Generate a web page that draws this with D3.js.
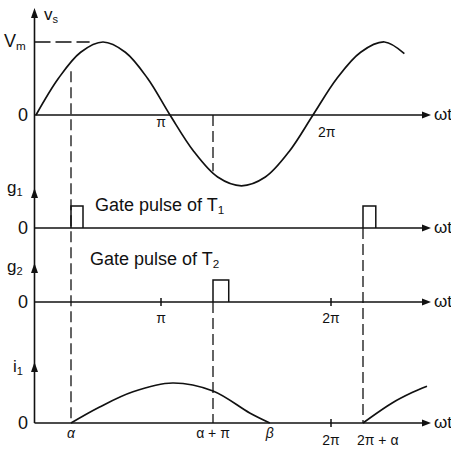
<!DOCTYPE html>
<html>
<head>
<meta charset="utf-8">
<script src="https://cdn.jsdelivr.net/npm/d3@7"></script>
<style>
  body { margin: 0; background: #fff; }
  svg text { font-family: "Liberation Sans", Arial, sans-serif; fill: #111; }
</style>
</head>
<body>
<div id="chart"></div>
<script>
var width = 451;
var height = 451;

// supply voltage v_s, angle in degrees, value in units of Vm
var vsAngle = [0, 30, 60, 90, 120, 150, 180, 210, 240, 270, 300, 330, 360, 390, 420, 450, 475];
var vsValue = [0, 0.5, 0.86, 1, 0.86, 0.5, 0, -0.5, -0.85, -0.97, -0.85, -0.5, 0, 0.5, 0.86, 1, 0.84];

// gate pulses (start angle, degrees)
var g1Pulses = [45, 405];
var g2Pulses = [225];
var pulseWidth = 18;

// load current i1, two conduction intervals
var i1Angle1 = [45, 88, 138, 190, 225, 267, 290];
var i1Value1 = [0, 0.40, 0.78, 1, 0.80, 0.25, 0];
var i1Angle2 = [405, 446, 474, 495];
var i1Value2 = [0, 0.5, 0.76, 0.92];

// tick labels
var topTickAngles = [180, 360];
var topTickLabels = ["π", "2π"];
var g2TickAngles = [180, 360];
var g2TickLabels = ["π", "2π"];
var i1TickAngles = [45, 225, 290, 360, 405];
var i1TickLabels = ["α", "α + π", "β", "2π", "2π + α"];

// dashed guides: angle, where they start
var alphaTopValue = 0.6;
var alphaPiTopValue = -0.77;

var ink = "#111";

function createSVG() {
  return d3.select("#chart").append("svg")
    .attr("width", width)
    .attr("height", height);
}

function hArrowAxis(svg, y, x0, x1) {
  svg.append("line")
    .attr("x1", x0).attr("x2", x1 - 6)
    .attr("y1", y).attr("y2", y)
    .attr("stroke", ink).attr("stroke-width", 1.6);
  svg.append("path")
    .attr("d", "M" + (x1 - 9) + "," + (y - 3.5) + "L" + x1 + "," + y + "L" + (x1 - 9) + "," + (y + 3.5) + "Z")
    .attr("fill", ink);
  svg.append("text")
    .attr("x", x1 + 3).attr("y", y + 5)
    .attr("font-size", 17)
    .text("ωt");
}

function vArrow(svg, x, tip) {
  svg.append("path")
    .attr("d", "M" + x + "," + tip + "L" + (x + 3.5) + "," + (tip + 10) + "L" + (x - 3.5) + "," + (tip + 10) + "Z")
    .attr("fill", ink);
}

function subLabel(svg, x, y, main, sub, size) {
  var t = svg.append("text").attr("x", x).attr("y", y).attr("font-size", size);
  t.append("tspan").text(main);
  t.append("tspan").attr("font-size", size * 0.65).attr("dy", 3).text(sub);
  return t;
}

function dashed(svg, x, y0, y1) {
  svg.append("line")
    .attr("x1", x).attr("x2", x)
    .attr("y1", y0).attr("y2", y1)
    .attr("stroke", ink).attr("stroke-width", 1.3)
    .attr("stroke-dasharray", "11,5");
}

function createChart() {
  var svg = createSVG();

  var axisX = 34.5;
  var axisEnd = 431;

  var xTop = d3.scaleLinear().domain([0, 180, 360]).range([36, 170, 313]);
  var xLow = d3.scaleLinear().domain([0, 45, 180, 225, 360, 405]).range([35, 71, 161, 213, 331, 363]);

  var yVs = d3.scaleLinear().domain([-1, 1]).range([188, 42]);
  var yG1 = d3.scaleLinear().domain([0, 1]).range([228, 206]);
  var yG2 = d3.scaleLinear().domain([0, 1]).range([302, 280]);
  var yI1 = d3.scaleLinear().domain([0, 1]).range([423, 383]);

  // vertical axis through all panels
  svg.append("line")
    .attr("x1", axisX).attr("x2", axisX)
    .attr("y1", 12).attr("y2", yI1(0))
    .attr("stroke", ink).attr("stroke-width", 1.6);
  [8, 188, 263, 362].forEach(function(t) { vArrow(svg, axisX, t); });

  hArrowAxis(svg, yVs(0), axisX, axisEnd);
  hArrowAxis(svg, yG1(0), axisX, axisEnd);
  hArrowAxis(svg, yG2(0), axisX, axisEnd);
  hArrowAxis(svg, yI1(0), axisX, axisEnd);

  // y labels
  subLabel(svg, 44, 20, "v", "s", 17);
  subLabel(svg, 4, 47, "V", "m", 18);
  subLabel(svg, 7, 193, "g", "1", 17);
  subLabel(svg, 7, 272, "g", "2", 17);
  subLabel(svg, 13, 372, "i", "1", 17);
  [yVs(0), yG1(0), yG2(0), yI1(0)].forEach(function(y) {
    svg.append("text").attr("x", 23).attr("y", y + 6)
      .attr("text-anchor", "middle").attr("font-size", 18).text("0");
  });

  // Vm guide
  svg.append("line")
    .attr("x1", axisX).attr("x2", xTop(72))
    .attr("y1", yVs(1)).attr("y2", yVs(1))
    .attr("stroke", ink).attr("stroke-width", 1.3)
    .attr("stroke-dasharray", "16,5");

  // v_s curve
  var vsLine = d3.line()
    .x(function(d, i) { return xTop(vsAngle[i]); })
    .y(function(d, i) { return yVs(vsValue[i]); })
    .curve(d3.curveCatmullRom.alpha(0.5));
  svg.append("path")
    .datum(vsAngle)
    .attr("d", vsLine)
    .attr("fill", "none").attr("stroke", ink).attr("stroke-width", 1.7);

  // top tick labels
  svg.selectAll(".topTick")
    .data(topTickAngles)
    .enter().append("text")
    .attr("class", "topTick")
    .attr("x", function(d, i) { return i === 0 ? xTop(d) - 4 : xTop(d) + 5; })
    .attr("y", function(d, i) { return i === 0 ? 127 : 137; })
    .attr("text-anchor", function(d, i) { return i === 0 ? "end" : "start"; })
    .attr("font-size", 14)
    .text(function(d, i) { return topTickLabels[i]; });

  // dashed guides
  dashed(svg, xLow(45), yVs(alphaTopValue), yI1(0));
  dashed(svg, xLow(225), yVs(0), yVs(alphaPiTopValue));
  dashed(svg, xLow(225), yG2(0), yI1(0));
  dashed(svg, xLow(405), yG1(0), yI1(0));

  // gate pulses
  function pulse(y) {
    return function(a) {
      return "M" + xLow(a) + "," + y(0) + "V" + y(1) + "H" + xLow(a + pulseWidth) + "V" + y(0);
    };
  }
  svg.selectAll(".g1p").data(g1Pulses).enter().append("path")
    .attr("class", "g1p")
    .attr("d", pulse(yG1))
    .attr("fill", "none").attr("stroke", ink).attr("stroke-width", 1.5);
  svg.selectAll(".g2p").data(g2Pulses).enter().append("path")
    .attr("class", "g2p")
    .attr("d", pulse(yG2))
    .attr("fill", "none").attr("stroke", ink).attr("stroke-width", 1.5);

  subLabel(svg, 95, 211, "Gate pulse of T", "1", 18);
  subLabel(svg, 90, 265, "Gate pulse of T", "2", 18);

  // g2 ticks
  g2TickAngles.forEach(function(a, i) {
    svg.append("line")
      .attr("x1", xLow(a)).attr("x2", xLow(a))
      .attr("y1", yG2(0) - 4).attr("y2", yG2(0) + 4)
      .attr("stroke", ink).attr("stroke-width", 1.5);
    svg.append("text")
      .attr("x", xLow(a)).attr("y", yG2(0) + 21)
      .attr("text-anchor", "middle").attr("font-size", 14)
      .text(g2TickLabels[i]);
  });

  // i1 curve
  function i1Line(angles, values) {
    return d3.line()
      .x(function(d, i) { return xLow(angles[i]); })
      .y(function(d, i) { return yI1(values[i]); })
      .curve(d3.curveCatmullRom.alpha(0.5))(angles);
  }
  svg.append("path")
    .attr("d", i1Line(i1Angle1, i1Value1))
    .attr("fill", "none").attr("stroke", ink).attr("stroke-width", 1.7);
  svg.append("path")
    .attr("d", i1Line(i1Angle2, i1Value2))
    .attr("fill", "none").attr("stroke", ink).attr("stroke-width", 1.7);

  // i1 ticks and labels
  svg.append("line")
    .attr("x1", xLow(360)).attr("x2", xLow(360))
    .attr("y1", yI1(0) - 4).attr("y2", yI1(0) + 4)
    .attr("stroke", ink).attr("stroke-width", 1.5);
  i1TickAngles.forEach(function(a, i) {
    var lab = i1TickLabels[i];
    var t = svg.append("text")
      .attr("y", yI1(0) + (lab === "2π" || lab === "2π + α" ? 22 : 15))
      .attr("font-size", 14);
    if (lab === "2π + α") {
      t.attr("x", xLow(a) - 6).attr("text-anchor", "start");
    } else {
      t.attr("x", xLow(a)).attr("text-anchor", "middle");
    }
    if (lab === "α" || lab === "β") t.attr("font-style", "italic");
    t.text(lab);
  });
}

window.onload = function() {
  createChart();
};
</script>
</body>
</html>
